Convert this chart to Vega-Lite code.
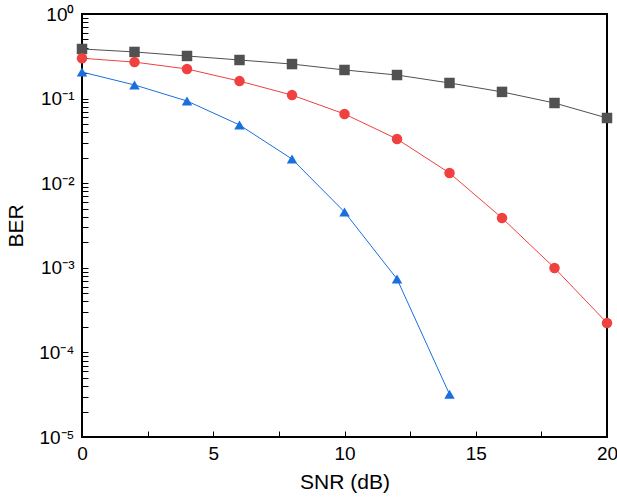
{
  "$schema": "https://vega.github.io/schema/vega-lite/v6.json",
  "width": 525,
  "height": 423,
  "data": {
    "values": [
      {"snr": 0, "ber": 0.386, "series": "Fixed threshold"},
      {"snr": 2, "ber": 0.356, "series": "Fixed threshold"},
      {"snr": 4, "ber": 0.319, "series": "Fixed threshold"},
      {"snr": 6, "ber": 0.286, "series": "Fixed threshold"},
      {"snr": 8, "ber": 0.256, "series": "Fixed threshold"},
      {"snr": 10, "ber": 0.218, "series": "Fixed threshold"},
      {"snr": 12, "ber": 0.19, "series": "Fixed threshold"},
      {"snr": 14, "ber": 0.153, "series": "Fixed threshold"},
      {"snr": 16, "ber": 0.12, "series": "Fixed threshold"},
      {"snr": 18, "ber": 0.0887, "series": "Fixed threshold"},
      {"snr": 20, "ber": 0.059, "series": "Fixed threshold"},
      {"snr": 0, "ber": 0.3, "series": "Adaptive threshold"},
      {"snr": 2, "ber": 0.27, "series": "Adaptive threshold"},
      {"snr": 4, "ber": 0.224, "series": "Adaptive threshold"},
      {"snr": 6, "ber": 0.161, "series": "Adaptive threshold"},
      {"snr": 8, "ber": 0.11, "series": "Adaptive threshold"},
      {"snr": 10, "ber": 0.0658, "series": "Adaptive threshold"},
      {"snr": 12, "ber": 0.0333, "series": "Adaptive threshold"},
      {"snr": 14, "ber": 0.0132, "series": "Adaptive threshold"},
      {"snr": 16, "ber": 0.00388, "series": "Adaptive threshold"},
      {"snr": 18, "ber": 0.000995, "series": "Adaptive threshold"},
      {"snr": 20, "ber": 0.000223, "series": "Adaptive threshold"},
      {"snr": 0, "ber": 0.206, "series": "Proposed dynamic threshold"},
      {"snr": 2, "ber": 0.145, "series": "Proposed dynamic threshold"},
      {"snr": 4, "ber": 0.0937, "series": "Proposed dynamic threshold"},
      {"snr": 6, "ber": 0.0488, "series": "Proposed dynamic threshold"},
      {"snr": 8, "ber": 0.0193, "series": "Proposed dynamic threshold"},
      {"snr": 10, "ber": 0.00457, "series": "Proposed dynamic threshold"},
      {"snr": 12, "ber": 0.000738, "series": "Proposed dynamic threshold"},
      {"snr": 14, "ber": 0.000032, "series": "Proposed dynamic threshold"}
    ]
  },
  "encoding": {
    "x": {"field": "snr", "type": "quantitative", "scale": {"domain": [0, 20], "nice": false},
      "axis": {"values": [0, 2.5, 5, 7.5, 10, 12.5, 15, 17.5, 20], "tickSize": -6, "domain": false,
        "labelExpr": "datum.value % 5 === 0 ? datum.label : ''",
        "labelFontSize": 19, "labelPadding": 13, "labelFlush": false, "labelOverlap": false,
        "title": "SNR (dB)", "titleFontSize": 21, "titlePadding": 8}},
    "y": {"field": "ber", "type": "quantitative", "scale": {"type": "log", "domain": [0.00001, 1], "nice": false},
      "axis": {"values": [1,0.9,0.8,0.7,0.6,0.5,0.4,0.3,0.2,0.1,0.09,0.08,0.07,0.06,0.05,0.04,0.03,0.02,0.01,0.009,0.008,0.007,0.006,0.005,0.004,0.003,0.002,0.001,0.0009,0.0008,0.0007,0.0006,0.0005,0.0004,0.0003,0.0002,0.0001,0.00009,0.00008,0.00007,0.00006,0.00005,0.00004,0.00003,0.00002,0.00001],
        "tickSize": -6, "domain": false,
        "labelFontSize": 19, "labelPadding": 14, "labelOverlap": false,
        "labelExpr": "indexof([1,0.1,0.01,0.001,0.0001,0.00001], datum.value) >= 0 ? ['10⁰','10⁻¹','10⁻²','10⁻³','10⁻⁴','10⁻⁵'][indexof([1,0.1,0.01,0.001,0.0001,0.00001], datum.value)] : ''",
        "title": "BER", "titleFontSize": 21, "titlePadding": 12}}
  },
  "layer": [
    {
      "mark": {"type": "line", "strokeWidth": 1},
      "encoding": {
        "color": {"field": "series", "type": "nominal",
          "scale": {"domain": ["Fixed threshold", "Adaptive threshold", "Proposed dynamic threshold"], "range": ["#515151", "#F14040", "#1A6FDF"]},
          "legend": null}
      }
    },
    {
      "mark": {"type": "point", "filled": true, "opacity": 1, "size": 110},
      "encoding": {
        "color": {"field": "series", "type": "nominal",
          "scale": {"domain": ["Fixed threshold", "Adaptive threshold", "Proposed dynamic threshold"], "range": ["#515151", "#F14040", "#1A6FDF"]},
          "legend": {"title": null, "orient": "bottom-left", "offset": 24, "strokeColor": "#000", "padding": 4,
            "labelFontSize": 17.5, "labelColor": "#000", "symbolSize": 110}},
        "shape": {"field": "series", "type": "nominal",
          "scale": {"domain": ["Fixed threshold", "Adaptive threshold", "Proposed dynamic threshold"], "range": ["square", "circle", "triangle-up"]},
          "legend": {"title": null, "orient": "bottom-left", "offset": 24, "strokeColor": "#000", "padding": 4,
            "labelFontSize": 17.5, "labelColor": "#000", "symbolSize": 110}}
      }
    }
  ],
  "config": {
    "view": {"stroke": "#000", "strokeWidth": 2},
    "font": "Liberation Sans",
    "axis": {"grid": false, "tickColor": "#000", "labelColor": "#000", "titleColor": "#000", "titleFontWeight": "normal"}
  }
}
